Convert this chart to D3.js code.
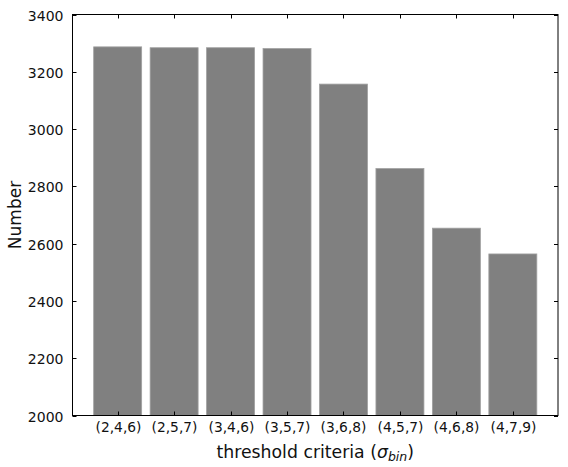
<!DOCTYPE html>
<html>
<head>
<meta charset="utf-8">
<script src="https://cdn.jsdelivr.net/npm/d3@7"></script>
<style>
  body { margin: 0; background: #fff; }
  svg { display: block; font-family: "DejaVu Sans", sans-serif; }
</style>
</head>
<body>
<svg id="chart" width="568" height="467"></svg>
<script>
const categories = ["(2,4,6)", "(2,5,7)", "(3,4,6)", "(3,5,7)", "(3,6,8)", "(4,5,7)", "(4,6,8)", "(4,7,9)"];
const values = [3287, 3284, 3284, 3281, 3157, 2862, 2654, 2564];
const yTicks = [2000, 2200, 2400, 2600, 2800, 3000, 3200, 3400];

(function () {
const svg = d3.select("#chart");
const mL = 72.5, mR = 558, mT = 14.5, mB = 415.5;

const x = d3.scaleLinear().domain([-0.8, categories.length - 0.2]).range([mL, mR]);
const y = d3.scaleLinear().domain([2000, 3400]).range([mB, mT]);
const barW = 0.85;

svg.append("g").selectAll("rect").data(values).join("rect")
  .attr("x", (d, i) => x(i - barW / 2))
  .attr("y", d => y(d))
  .attr("width", x(barW) - x(0))
  .attr("height", d => y(2000) - y(d))
  .attr("fill", "#808080")
  .attr("stroke", "#a0a0a0")
  .attr("stroke-width", 0.8);

svg.append("rect").attr("x", mL).attr("y", mT)
  .attr("width", mR - mL).attr("height", mB - mT)
  .attr("fill", "none").attr("stroke", "#000").attr("stroke-width", 1);

const tickLen = 4;
const yl = svg.append("g");
yTicks.forEach(t => {
  const yy = Math.round(y(t)) + 0.5;
  yl.append("line").attr("x1", mL).attr("x2", mL + tickLen).attr("y1", yy).attr("y2", yy).attr("stroke", "#000");
  yl.append("line").attr("x1", mR - tickLen).attr("x2", mR).attr("y1", yy).attr("y2", yy).attr("stroke", "#000");
  yl.append("text").attr("x", mL - 9).attr("y", yy).attr("dy", "0.36em")
    .attr("text-anchor", "end").attr("font-size", 14).attr("fill", "#111").text(t);
});

const xl = svg.append("g");
categories.forEach((c, i) => {
  const xx = Math.round(x(i)) + 0.5;
  xl.append("line").attr("x1", xx).attr("x2", xx).attr("y1", mB).attr("y2", mB - tickLen).attr("stroke", "#000");
  xl.append("line").attr("x1", xx).attr("x2", xx).attr("y1", mT).attr("y2", mT + tickLen).attr("stroke", "#000");
  xl.append("text").attr("x", xx).attr("y", 432)
    .attr("text-anchor", "middle").attr("font-size", 13.8).attr("fill", "#111").text(c);
});

const xt = svg.append("text").attr("x", (mL + mR) / 2).attr("y", 457.5)
  .attr("text-anchor", "middle").attr("font-size", 17.3).attr("fill", "#111");
xt.append("tspan").text("threshold criteria (");
xt.append("tspan").attr("font-style", "italic").text("σ");
xt.append("tspan").attr("font-style", "italic").attr("font-size", 12.5).attr("dy", 3).text("bin");
xt.append("tspan").attr("dy", -3).text(")");

svg.append("text").attr("transform", `translate(21,${(mT + mB) / 2}) rotate(-90)`)
  .attr("text-anchor", "middle").attr("font-size", 17).attr("fill", "#111").text("Number");
})();
</script>
</body>
</html>
